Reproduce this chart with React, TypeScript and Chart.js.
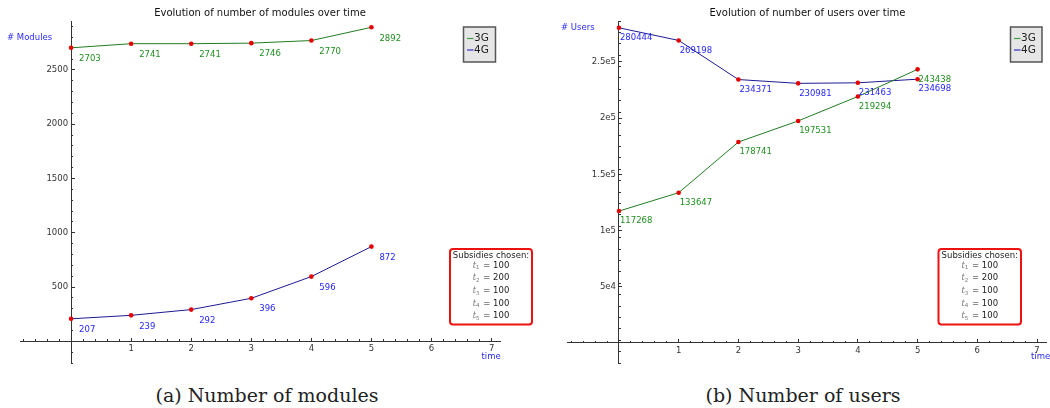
import React, { useEffect, useRef } from 'react';
import { Chart, registerables } from 'chart.js';

Chart.register(...registerables);

// ---------------- data ----------------
const timeSteps = [0, 1, 2, 3, 4, 5];
const seriesNames = ['3G', '4G'];
const modules3G = [2703, 2741, 2741, 2746, 2770, 2892];
const modules4G = [207, 239, 292, 396, 596, 872];
const users3G = [117268, 133647, 178741, 197531, 219294, 243438];
const users4G = [280444, 269198, 234371, 230981, 231463, 234698];
const xTickValues = [1, 2, 3, 4, 5, 6, 7];
const xTickLabels = ['1', '2', '3', '4', '5', '6', '7'];
const modulesTickValues = [500, 1000, 1500, 2000, 2500];
const modulesTickLabels = ['500', '1000', '1500', '2000', '2500'];
const usersTickValues = [50000, 100000, 150000, 200000, 250000];
const usersTickLabels = ['5e4', '1e5', '1.5e5', '2e5', '2.5e5'];
const subsidyIndices = ['1', '2', '3', '4', '5'];
const subsidyValues = [100, 200, 100, 100, 100];

// ---------------- styles ----------------
const FONT = '"DejaVu Sans", sans-serif';
const lineColors = ['#217d21', '#1b1b96'];
const textColors = ['#1f8f1f', '#2626ff'];
const legendLineColors = ['#3f9f3f', '#3030c0'];
const axisColor = '#333333';
const pointColor = '#e60000';

interface Box { x: number; y: number; w: number; h: number }
interface PanelSpec {
  title: string;
  yLabel: string;
  series: number[][];
  xMin: number; xMax: number;
  yMin: number; yMax: number;
  yMinor: number;
  yTickValues: number[]; yTickLabels: string[];
  canvasWidth: number;
  padding: { left: number; right: number; top: number; bottom: number };
  labelDx: number; labelDy: number;
  yLabelPos: { x: number; y: number };
  timePos: { x: number; y: number };
  legendBox: Box;
  subsidyBox: Box;
}

function lookupLabel(values: number[], labels: string[], v: number) {
  const i = values.findIndex((t) => Math.abs(t - v) < 1e-6);
  return i >= 0 ? labels[i] : '';
}

function roundRect(ctx: CanvasRenderingContext2D, x: number, y: number, w: number, h: number, r: number) {
  ctx.beginPath();
  ctx.moveTo(x + r, y);
  ctx.lineTo(x + w - r, y);
  ctx.quadraticCurveTo(x + w, y, x + w, y + r);
  ctx.lineTo(x + w, y + h - r);
  ctx.quadraticCurveTo(x + w, y + h, x + w - r, y + h);
  ctx.lineTo(x + r, y + h);
  ctx.quadraticCurveTo(x, y + h, x, y + h - r);
  ctx.lineTo(x, y + r);
  ctx.quadraticCurveTo(x, y, x + r, y);
  ctx.closePath();
}

function makeDecorPlugin(spec: PanelSpec) {
  return {
    id: 'decor',
    afterDatasetsDraw(chart: any) {
      const ctx: CanvasRenderingContext2D = chart.ctx;
      ctx.save();
      ctx.font = `8.5px ${FONT}`;
      ctx.textAlign = 'left';
      ctx.textBaseline = 'middle';
      spec.series.forEach((values, i) => {
        const meta = chart.getDatasetMeta(i);
        ctx.fillStyle = textColors[i];
        meta.data.forEach((el: any, j: number) => {
          ctx.fillText(String(values[j]), el.x + spec.labelDx, el.y + spec.labelDy);
        });
      });
      ctx.restore();
    },
    afterDraw(chart: any) {
      const ctx: CanvasRenderingContext2D = chart.ctx;
      ctx.save();
      // y tick labels, placed through the library's scales
      const xs = chart.scales.x;
      const ys = chart.scales.y;
      const axisX = xs.getPixelForValue(0);
      ctx.font = `8.5px ${FONT}`;
      ctx.fillStyle = axisColor;
      ctx.textAlign = 'right';
      ctx.textBaseline = 'middle';
      ys.ticks.forEach((t: any) => {
        const label = lookupLabel(spec.yTickValues, spec.yTickLabels, t.value);
        if (label) ctx.fillText(label, axisX - 3, ys.getPixelForValue(t.value));
      });

      // axis labels
      ctx.fillStyle = '#2a2aff';
      ctx.textAlign = 'left';
      ctx.fillText(spec.yLabel, spec.yLabelPos.x, spec.yLabelPos.y);
      ctx.fillText('time', spec.timePos.x, spec.timePos.y);

      // legend
      const lb = spec.legendBox;
      ctx.fillStyle = '#e6e6e6';
      ctx.fillRect(lb.x, lb.y, lb.w, lb.h);
      ctx.strokeStyle = '#555555';
      ctx.lineWidth = 1.5;
      ctx.strokeRect(lb.x, lb.y, lb.w, lb.h);
      ctx.font = `10.5px ${FONT}`;
      seriesNames.forEach((name, i) => {
        const cy = lb.y + 11.5 + i * 11.5;
        ctx.strokeStyle = legendLineColors[i];
        ctx.lineWidth = 1.2;
        ctx.beginPath();
        ctx.moveTo(lb.x + 3.5, cy);
        ctx.lineTo(lb.x + 10, cy);
        ctx.stroke();
        ctx.fillStyle = '#222222';
        ctx.fillText(name, lb.x + 10.5, cy);
      });

      // subsidies box
      const sb = spec.subsidyBox;
      roundRect(ctx, sb.x, sb.y, sb.w, sb.h, 3);
      ctx.fillStyle = '#ffffff';
      ctx.fill();
      ctx.strokeStyle = '#ee1111';
      ctx.lineWidth = 2;
      ctx.stroke();
      const cx = sb.x + sb.w / 2;
      ctx.font = `8.5px ${FONT}`;
      ctx.fillStyle = '#222222';
      ctx.textAlign = 'center';
      ctx.fillText('Subsidies chosen:', cx, sb.y + 6.5);
      ctx.textAlign = 'left';
      subsidyIndices.forEach((idx, i) => {
        const y = sb.y + 16.5 + i * 12.6;
        const rest = ` = ${subsidyValues[i]}`;
        ctx.font = `italic 8.5px "DejaVu Serif", serif`;
        const wt = ctx.measureText('t').width;
        ctx.font = `5.5px ${FONT}`;
        const ws = ctx.measureText(idx).width;
        ctx.font = `8.5px ${FONT}`;
        const wr = ctx.measureText(rest).width;
        let x = cx - (wt + ws + 1 + wr) / 2;
        ctx.fillStyle = '#777777';
        ctx.font = `italic 8.5px "DejaVu Serif", serif`;
        ctx.fillText('t', x, y);
        x += wt;
        ctx.font = `5.5px ${FONT}`;
        ctx.fillText(idx, x, y + 2.5);
        x += ws + 1;
        ctx.fillStyle = '#222222';
        ctx.font = `8.5px ${FONT}`;
        ctx.fillText(rest, x, y);
      });
      ctx.restore();
    },
  };
}

function zeroFitX(s: any) {
  s.height = 0;
  s.paddingLeft = 0; s.paddingRight = 0; s.paddingTop = 0; s.paddingBottom = 0;
}
function zeroFitY(s: any) {
  s.width = 0;
  s.paddingLeft = 0; s.paddingRight = 0; s.paddingTop = 0; s.paddingBottom = 0;
}

function makeConfig(spec: PanelSpec): any {
  const tickFont = { family: FONT, size: 8.5 };
  return {
    type: 'line',
    data: {
      datasets: spec.series.map((values, i) => ({
        label: seriesNames[i],
        data: values.map((v, j) => ({ x: timeSteps[j], y: v })),
        borderColor: lineColors[i],
        borderWidth: 1,
        backgroundColor: pointColor,
        pointBackgroundColor: pointColor,
        pointBorderColor: pointColor,
        pointBorderWidth: 0,
        pointRadius: 2.3,
        tension: 0,
        fill: false,
      })),
    },
    options: {
      responsive: false,
      animation: false,
      events: [],
      layout: { padding: spec.padding },
      plugins: {
        legend: { display: false },
        tooltip: { enabled: false },
        title: {
          display: true,
          text: spec.title,
          color: '#111111',
          font: { family: FONT, size: 10, weight: 'normal' },
          padding: { top: 7, bottom: 2 },
        },
      },
      scales: {
        x: {
          type: 'linear', axis: 'x', min: spec.xMin, max: spec.xMax,
          position: { y: 0 },
          grid: { display: true, drawOnChartArea: false, drawTicks: true, tickLength: -4, tickColor: axisColor, tickWidth: 1 },
          border: { display: true, color: axisColor, width: 1 },
          ticks: {
            stepSize: 1, includeBounds: false, autoSkip: false, maxRotation: 0, minRotation: 0,
            maxTicksLimit: 1000, padding: 6.5, color: axisColor, font: tickFont,
            callback: (v: number) => lookupLabel(xTickValues, xTickLabels, v),
          },
          afterBuildTicks: (s: any) => { s.ticks = xTickValues.map((v) => ({ value: v })); },
          afterFit: zeroFitX,
        },
        x2: {
          type: 'linear', axis: 'x', min: spec.xMin, max: spec.xMax,
          position: { y: 0 },
          grid: { display: true, drawOnChartArea: false, drawTicks: true, tickLength: -2, tickColor: axisColor, tickWidth: 1 },
          border: { display: false },
          ticks: { display: false, stepSize: 0.2, includeBounds: false, autoSkip: false, maxTicksLimit: 1000 },
          afterFit: zeroFitX,
        },
        y: {
          type: 'linear', axis: 'y', min: spec.yMin, max: spec.yMax,
          position: { x: 0 },
          grid: { display: true, drawOnChartArea: false, drawTicks: true, tickLength: -4, tickColor: axisColor, tickWidth: 1 },
          border: { display: true, color: axisColor, width: 1 },
          ticks: { display: false, autoSkip: false },
          afterBuildTicks: (s: any) => { s.ticks = spec.yTickValues.map((v) => ({ value: v })); },
          afterFit: zeroFitY,
        },
        y2: {
          type: 'linear', axis: 'y', min: spec.yMin, max: spec.yMax,
          position: { x: 0 },
          grid: { display: true, drawOnChartArea: false, drawTicks: true, tickLength: -2, tickColor: axisColor, tickWidth: 1 },
          border: { display: false },
          ticks: { display: false, stepSize: spec.yMinor, includeBounds: false, autoSkip: false, maxTicksLimit: 1000 },
          afterFit: zeroFitY,
        },
      },
    },
    plugins: [makeDecorPlugin(spec)],
  };
}

const modulesSpec: PanelSpec = {
  title: 'Evolution of number of modules over time',
  yLabel: '# Modules',
  series: [modules3G, modules4G],
  xMin: -0.85, xMax: 7.14,
  yMin: -200, yMax: 2950,
  yMinor: 100,
  yTickValues: modulesTickValues, yTickLabels: modulesTickLabels,
  canvasWidth: 545,
  padding: { left: 20, right: 45, top: 0, bottom: 7 },
  labelDx: 8, labelDy: 11,
  yLabelPos: { x: 7, y: 37.5 },
  timePos: { x: 481.5, y: 357 },
  legendBox: { x: 463.5, y: 27, w: 32, h: 35 },
  subsidyBox: { x: 450, y: 249, w: 82, h: 75.5 },
};

const usersSpec: PanelSpec = {
  title: 'Evolution of number of users over time',
  yLabel: '# Users',
  series: [users3G, users4G],
  xMin: -0.87, xMax: 7.15,
  yMin: -18000, yMax: 286500,
  yMinor: 10000,
  yTickValues: usersTickValues, yTickLabels: usersTickLabels,
  canvasWidth: 525,
  padding: { left: 42, right: 2, top: 0, bottom: 7 },
  labelDx: 1, labelDy: 10,
  yLabelPos: { x: 36, y: 28 },
  timePos: { x: 506, y: 357 },
  legendBox: { x: 485.5, y: 27, w: 31.5, h: 35 },
  subsidyBox: { x: 413.5, y: 249, w: 82.5, h: 75.5 },
};

function ChartPanel({ spec, left }: { spec: PanelSpec; left: number }) {
  const ref = useRef<HTMLCanvasElement>(null);
  useEffect(() => {
    const chart = new Chart(ref.current as HTMLCanvasElement, makeConfig(spec));
    return () => chart.destroy();
  }, [spec]);
  return (
    <canvas
      ref={ref}
      width={spec.canvasWidth}
      height={370}
      style={{ position: 'absolute', left, top: 0, width: spec.canvasWidth, height: 370 }}
    />
  );
}

const captionStyle: React.CSSProperties = {
  position: 'absolute',
  top: 385,
  width: 400,
  textAlign: 'center',
  fontFamily: '"DejaVu Serif", serif',
  fontSize: 19,
  lineHeight: '20px',
  color: '#222',
  whiteSpace: 'nowrap',
};

export default function App() {
  return (
    <div style={{ position: 'fixed', left: 0, top: 0, width: 1050, height: 408, background: '#fff', overflow: 'hidden' }}>
      <ChartPanel spec={modulesSpec} left={0} />
      <ChartPanel spec={usersSpec} left={525} />
      <div style={{ ...captionStyle, left: 267 - 200 }}>(a) Number of modules</div>
      <div style={{ ...captionStyle, left: 803 - 200 }}>(b) Number of users</div>
    </div>
  );
}
